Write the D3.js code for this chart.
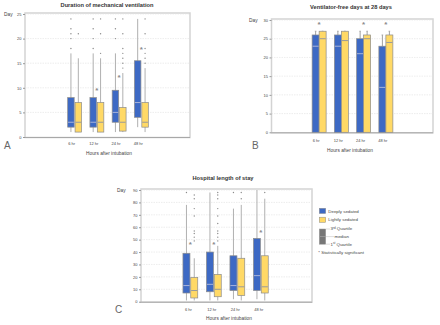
<!DOCTYPE html>
<html>
<head>
<meta charset="utf-8">
<script src="https://cdn.jsdelivr.net/npm/d3@7"></script>
<style>
  body { margin: 0; background: #fff; }
  svg, text { font-family: "Liberation Sans", Arial, sans-serif; }
</style>
</head>
<body>
<div id="chart"></div>
<script>
var groups = ["6 hr", "12 hr", "24 hr", "48 hr"];

// A: duration of mechanical ventilation, [min, q1, median, q3, max]
var ventDeep = [[1, 2, 3, 8, 17], [1, 2, 3, 8, 17], [1, 3, 5, 9.5, 17], [2, 4, 7, 15.5, 24]];
var ventLight = [[1, 1, 3, 7, 16], [1, 1, 3, 7, 16], [1, 1.2, 3, 6, 13], [1, 2, 3, 7, 14]];
var ventDeepOut = [[18, 20, 21, 22, 24], [18, 20, 22, 24], [20, 22, 24], []];
var ventLightOut = [[21], [17, 21, 24], [14, 15, 16, 17, 18, 21, 24], [15, 16, 17, 18, 21, 24]];
var ventSig = [null, 9.5, 12.3, 18];
var ventTicks = [0, 5, 10, 15, 20, 25];

// B: ventilator-free days at 28 days
var vfdDeep = [26, 26, 25, 23];
var vfdDeepMed = [23, 23, 21, 12];
var vfdDeepErr = [27, 27, 27, 26];
var vfdLight = [27, 27, 26, 26];
var vfdLightMed = [25, 24.5, 25, 24];
var vfdLightErr = [27, 27, 27, 27];
var vfdSig = [29, null, 29, 29];
var vfdTicks = [0, 5, 10, 15, 20, 25, 30];

// C: hospital length of stay
var losDeep = [[1, 7, 13, 39, 78], [1, 8, 14, 40, 88], [2, 9, 13, 37, 75], [2, 9, 21, 51, 90]];
var losLight = [[1, 3, 9, 19.5, 35], [1, 4, 10, 22, 45], [1, 5, 12, 35, 78], [1, 7, 12, 37, 83]];
var losDeepOut = [[88], [], [88], []];
var losLightOut = [[86, 83, 75, 69, 57, 55, 52, 49], [88, 86, 83, 75, 69, 63, 57, 55, 52, 49], [88, 83], [88]];
var losSig = [46.5, 47, null, 56.5];
var losTicks = [0, 10, 20, 30, 40, 50, 60, 70, 80, 90];

var blue = "#3d69c4";
var yellow = "#ffd966";
var font = "'Liberation Sans', Arial, sans-serif";

var svg = d3.select("#chart").append("svg")
  .attr("width", 440)
  .attr("height", 325)
  .attr("font-family", font);

// frame, grid, y axis
var frame = (x0, x1, y, ticks) => {
  var top = y.range()[1], bot = y.range()[0];
  var g = svg.append("g");
  g.append("rect")
    .attr("x", x0).attr("y", top - 1)
    .attr("width", x1 - x0).attr("height", bot - top + 1.5)
    .attr("fill", "none").attr("stroke", "#d3d3d3").attr("stroke-width", 1.5);
  g.selectAll(".grid")
    .data(ticks.filter(t => t > 0))
    .enter().append("line")
    .attr("x1", x0).attr("x2", x1)
    .attr("y1", d => y(d)).attr("y2", d => y(d))
    .attr("stroke", "#e0e0e0").attr("stroke-width", 0.6)
    .attr("stroke-dasharray", "1.5,1");
  g.append("line")
    .attr("x1", x0).attr("x2", x1)
    .attr("y1", bot + 0.5).attr("y2", bot + 0.5)
    .attr("stroke", "#a8a8a8").attr("stroke-width", 1);
  var ax = g.append("g")
    .attr("transform", "translate(" + x0 + ",0)")
    .call(d3.axisLeft(y).tickValues(ticks).tickSize(2).tickPadding(1.5));
  ax.attr("font-family", font);
  ax.select(".domain").remove();
  ax.selectAll("line").attr("stroke", "#999");
  ax.selectAll("text").attr("font-size", 4).attr("fill", "#444");
  return g;
};

var labels = (x, yTick, cx, yTitle, title, dayX, dayY, letter, lx, ly, xOff, hx) => {
  svg.append("text").attr("x", cx).attr("y", yTitle)
    .attr("text-anchor", "middle").attr("font-size", 5.7).attr("font-weight", "bold")
    .attr("fill", "#333").text(title);
  svg.append("text").attr("x", dayX).attr("y", dayY)
    .attr("font-size", 4.8).attr("fill", "#444").text("Day");
  svg.selectAll(null).data(groups).enter().append("text")
    .attr("x", d => x(d) + x.bandwidth() / 2 + xOff)
    .attr("y", yTick)
    .attr("text-anchor", "middle").attr("font-size", 4).attr("fill", "#444")
    .text(d => d);
  svg.append("text").attr("x", hx).attr("y", yTick + 9.5)
    .attr("text-anchor", "middle").attr("font-size", 4.8).attr("fill", "#444")
    .text("Hours after intubation");
  svg.append("text").attr("x", lx).attr("y", ly)
    .attr("font-size", 10).attr("fill", "#666").text(letter);
};

var boxes = (x, y, data, outs, off, w, fill, medColor) => {
  data.forEach((d, i) => {
    var cx = x(groups[i]) + x.bandwidth() / 2 + off;
    svg.append("line")
      .attr("x1", cx).attr("x2", cx)
      .attr("y1", y(d[0])).attr("y2", y(d[4]))
      .attr("stroke", "#b0b0b0").attr("stroke-width", 1);
    svg.append("rect")
      .attr("x", cx - w / 2).attr("y", y(d[3]))
      .attr("width", w).attr("height", y(d[1]) - y(d[3]))
      .attr("fill", fill).attr("stroke", "#8c8c8c").attr("stroke-width", 0.7);
    svg.append("line")
      .attr("x1", cx - w / 2 + 0.4).attr("x2", cx + w / 2 - 0.4)
      .attr("y1", y(d[2])).attr("y2", y(d[2]))
      .attr("stroke", medColor).attr("stroke-width", 1);
    svg.selectAll(null).data(outs[i]).enter().append("circle")
      .attr("cx", cx).attr("cy", v => y(v)).attr("r", 0.7)
      .attr("fill", "#8a8a8a");
  });
};

var stars = (x, y, sig) => {
  sig.forEach((v, i) => {
    if (v === null) return;
    svg.append("text")
      .attr("x", x(groups[i]) + x.bandwidth() / 2)
      .attr("y", y(v) + 3.2)
      .attr("text-anchor", "middle").attr("font-size", 8).attr("font-weight", "bold")
      .attr("fill", "#8a8a8a").text("*");
  });
};

// ---- panel A ----
var yA = d3.scaleLinear().domain([0, 25]).range([137, 14]);
var xA = d3.scaleBand().domain(groups).range([63.5, 152.5]);
frame(25, 190, yA, ventTicks);
boxes(xA, yA, ventDeep, ventDeepOut, -3.7, 6.5, blue, "#a7b3da");
boxes(xA, yA, ventLight, ventLightOut, 3.7, 6.5, yellow, "#9a9a9a");
stars(xA, yA, ventSig);
labels(xA, 145, 107, 7, "Duration of mechanical ventilation", 4, 16, "A", 4, 149, -3, 109);

// ---- panel B ----
var yB = d3.scaleLinear().domain([0, 30]).range([132.3, 20]);
var xB = d3.scaleBand().domain(groups).range([308, 397]);
frame(271.5, 433, yB, vfdTicks);
var bars = (vals, meds, errs, off, fill, medColor) => {
  vals.forEach((v, i) => {
    var x0 = xB(groups[i]) + xB.bandwidth() / 2 + off;
    svg.append("line")
      .attr("x1", x0 + 3.5).attr("x2", x0 + 3.5)
      .attr("y1", yB(v)).attr("y2", yB(errs[i]))
      .attr("stroke", "#a0a0a0").attr("stroke-width", 1);
    svg.append("line")
      .attr("x1", x0 + 2.7).attr("x2", x0 + 4.3)
      .attr("y1", yB(errs[i])).attr("y2", yB(errs[i]))
      .attr("stroke", "#a0a0a0").attr("stroke-width", 0.8);
    svg.append("rect")
      .attr("x", x0).attr("y", yB(v))
      .attr("width", 7).attr("height", yB(0) - yB(v))
      .attr("fill", fill).attr("stroke", "#8c8c8c").attr("stroke-width", 0.7);
    svg.append("line")
      .attr("x1", x0 + 0.4).attr("x2", x0 + 6.6)
      .attr("y1", yB(meds[i])).attr("y2", yB(meds[i]))
      .attr("stroke", medColor).attr("stroke-width", 1);
  });
};
bars(vfdDeep, vfdDeepMed, vfdDeepErr, -7, blue, "#a7b3da");
bars(vfdLight, vfdLightMed, vfdLightErr, 0, yellow, "#9a9a9a");
stars(xB, yB, vfdSig);
labels(xB, 142, 351, 9, "Ventilator-free days at 28 days", 249, 22, "B", 252, 149, -3, 350);

// ---- panel C ----
var yC = d3.scaleLinear().domain([0, 90]).range([301.7, 190]);
var xC = d3.scaleBand().domain(groups).range([178.6, 272.6]);
frame(141, 312, yC, losTicks);
boxes(xC, yC, losDeep, losDeepOut, -3.9, 7, blue, "#a7b3da");
boxes(xC, yC, losLight, losLightOut, 3.9, 7, yellow, "#9a9a9a");
stars(xC, yC, losSig);
labels(xC, 310.5, 223, 180, "Hospital length of stay", 117, 192, "C", 115, 313, -2, 229);

// ---- legend ----
var lg = svg.append("g").attr("font-size", 4.4).attr("fill", "#444");
lg.append("rect").attr("x", 319.3).attr("y", 208.3).attr("width", 6.4).attr("height", 5.2)
  .attr("fill", blue).attr("stroke", "#8c8c8c").attr("stroke-width", 0.5);
lg.append("text").attr("x", 328.3).attr("y", 212.6).text("Deeply sedated");
lg.append("rect").attr("x", 319.3).attr("y", 217.2).attr("width", 6.4).attr("height", 5.2)
  .attr("fill", yellow).attr("stroke", "#8c8c8c").attr("stroke-width", 0.5);
lg.append("text").attr("x", 328.3).attr("y", 221.4).text("Lightly sedated");
lg.append("rect").attr("x", 319.3).attr("y", 229).attr("width", 6.4).attr("height", 7.6)
  .attr("fill", "#777").attr("stroke", "#999").attr("stroke-width", 0.5);
lg.append("rect").attr("x", 319.3).attr("y", 236.6).attr("width", 6.4).attr("height", 7.6)
  .attr("fill", "#777").attr("stroke", "#999").attr("stroke-width", 0.5);
// [y, text x, number, superscript, rest]
var legLines = [[229, 330.5, "3", "rd", " Quartile"], [236.6, 334.5, "median", "", ""], [244.2, 330.5, "1", "st", " Quartile"]];
legLines.forEach(d => {
  lg.append("line").attr("x1", 325.7).attr("x2", d[1] - 0.5)
    .attr("y1", d[0]).attr("y2", d[0])
    .attr("stroke", "#aaa").attr("stroke-width", 0.4);
  var t = lg.append("text").attr("x", d[1]).attr("y", d[0] + 1.4);
  t.append("tspan").text(d[2]);
  if (d[3]) {
    t.append("tspan").attr("font-size", 3).attr("dy", -1.3).text(d[3]);
    t.append("tspan").attr("dy", 1.3).text(d[4]);
  }
});
lg.append("text").attr("x", 318.3).attr("y", 254.2).text("* Statistically significant");
</script>
</body>
</html>
